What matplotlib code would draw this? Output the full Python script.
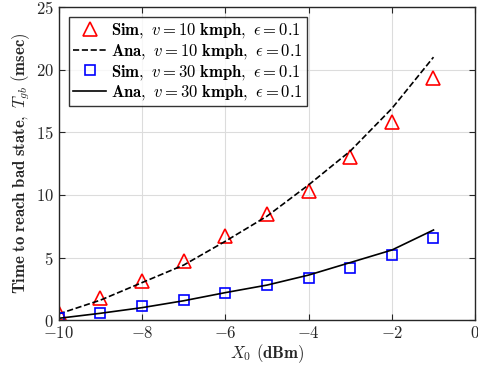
import matplotlib
matplotlib.use('Agg')
import matplotlib.pyplot as plt

plt.rcParams['mathtext.fontset'] = 'cm'
plt.rcParams['font.family'] = 'cmr10'
plt.rcParams['axes.formatter.use_mathtext'] = True

x0 = [-10, -9, -8, -7, -6, -5, -4, -3, -2, -1]
sim_v10 = [0.6, 1.8, 3.1, 4.7, 6.7, 8.5, 10.3, 13.0, 15.8, 19.3]
ana_v10 = [0.5, 1.6, 3.0, 4.4, 6.3, 8.3, 10.8, 13.5, 16.9, 21.0]
sim_v30 = [0.15, 0.55, 1.15, 1.6, 2.2, 2.8, 3.4, 4.2, 5.2, 6.6]
ana_v30 = [0.15, 0.55, 1.0, 1.55, 2.2, 2.8, 3.6, 4.6, 5.6, 7.2]

fig = plt.figure(figsize=(4.78, 3.71), dpi=100)
ax = fig.add_axes([0.123, 0.137, 0.871, 0.844])

ax.plot(x0, sim_v10, linestyle='none', marker='^', markersize=10, markerfacecolor='none',
        markeredgecolor='red', markeredgewidth=1.2,
        label=r'$\mathbf{Sim,}\ v = 10\ \mathbf{kmph},\ \epsilon = 0.1$')
ax.plot(x0, ana_v10, 'k--', linewidth=1.2,
        label=r'$\mathbf{Ana,}\ v = 10\ \mathbf{kmph},\ \epsilon = 0.1$')
ax.plot(x0, sim_v30, linestyle='none', marker='s', markersize=7.5, markerfacecolor='none',
        markeredgecolor='blue', markeredgewidth=1.2,
        label=r'$\mathbf{Sim,}\ v = 30\ \mathbf{kmph},\ \epsilon = 0.1$')
ax.plot(x0, ana_v30, 'k-', linewidth=1.2,
        label=r'$\mathbf{Ana,}\ v = 30\ \mathbf{kmph},\ \epsilon = 0.1$')

ax.set_xlim(-10, 0)
ax.set_ylim(0, 25)
ax.set_xticks([-10, -8, -6, -4, -2, 0])
ax.set_yticks([0, 5, 10, 15, 20, 25])
ax.grid(True, color='#dcdcdc', linewidth=0.8)
ax.set_axisbelow(True)
ax.tick_params(direction='in', top=True, right=True, labelsize=12, colors='#262626', length=4)
for s in ax.spines.values():
    s.set_color('#262626')
    s.set_linewidth(1.0)

ax.set_xlabel(r'$X_0$ $\mathbf{(dBm)}$', fontsize=12, color='#262626', labelpad=1)
ax.set_ylabel(r'$\mathbf{Time\ to\ reach\ bad\ state,}\ T_{gb}\ \mathbf{(msec)}$', fontsize=12,
              color='#262626', labelpad=3)

leg = ax.legend(loc='upper left', fontsize=12, frameon=True, fancybox=False, edgecolor='black',
                borderpad=0.25, handlelength=2.0, handletextpad=0.3, labelspacing=0.1,
                borderaxespad=0.6)
leg.get_frame().set_linewidth(1.0)

plt.savefig('out.png', dpi=100)
